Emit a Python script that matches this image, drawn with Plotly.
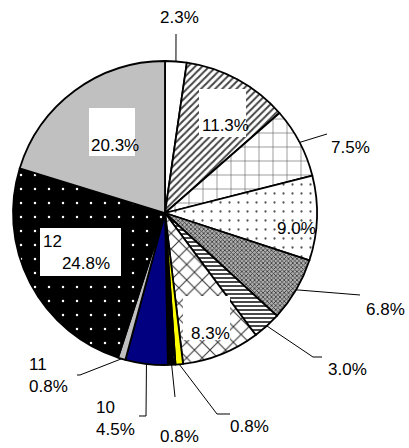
import math
import plotly.graph_objects as go

# ---- data ----
categories = ["1", "2", "3", "4", "5", "6", "7", "8", "9", "10", "11", "12", "13"]
values = [2.3, 11.3, 7.5, 9.0, 6.8, 3.0, 8.3, 0.8, 0.8, 4.5, 0.8, 24.8, 20.3]
label_texts = ["2.3%", "11.3%", "7.5%", "9.0%", "6.8%", "3.0%", "8.3%",
               "0.8%", "0.8%", "10<br>4.5%", "11<br>0.8%", "12<br>   24.8%", "20.3%"]

# ---- styles ----
bg_colors = ["#ffffff", "#ffffff", "#ffffff", "#ffffff", "#b0b0b0", "#ffffff", "#ffffff",
             "#ffff00", "#000000", "#000080", "#c0c0c0", "#000000", "#c0c0c0"]
fg_colors = ["#000000", "#444444", "#666666", "#555555", "#333333", "#333333", "#333333",
             "#ffff00", "#ffffff", "#000080", "#c0c0c0", "#ffffff", "#c0c0c0"]
shapes_p = ["", "/", "+", ".", "x", "-", "x", "", ".", "", "", ".", ""]
sizes_p = [8, 5, 14, 9, 3, 4, 11, 8, 14, 8, 8, 14, 8]
solid_p = [0.3, 0.4, 0.09, 0.05, 0.45, 0.45, 0.18, 0.3, 0.025, 0.3, 0.3, 0.025, 0.3]

W, H = 409, 448
CX, CY, R = 165, 213, 152   # pie centre / radius in pixels


def px(x):
    return x / W


def py(y):
    return 1 - y / H


fig = go.Figure(go.Pie(
    labels=categories, values=values, sort=False, direction="clockwise",
    rotation=0, textinfo="none", hoverinfo="label+percent",
    domain=dict(x=[px(CX - R), px(CX + R)], y=[py(CY + R), py(CY - R)]),
    marker=dict(colors=bg_colors,
                line=dict(color="#000000", width=1.8),
                pattern=dict(shape=shapes_p, fgcolor=fg_colors, bgcolor=bg_colors,
                             size=sizes_p, solidity=solid_p, fillmode="replace")),
    showlegend=False,
))

# label layout: text anchor point, anchor side, white box, leader elbow/end points
label_layout = [
    dict(x=179, y=18, anchor="center", box=None, leader=[(176, 34)]),
    dict(x=225, y=125, anchor="center", box=(199, 89, 246, 137), leader=None),
    dict(x=350, y=147, anchor="center", box=None, leader=[(327, 134)]),
    dict(x=296, y=228, anchor="center", box=None, leader=None),
    dict(x=385, y=309, anchor="center", box=None, leader=[(360, 295)]),
    dict(x=347, y=369, anchor="center", box=None, leader=[(313, 357), (322, 357)]),
    dict(x=210, y=333, anchor="center", box=(183, 296, 230, 340), leader=None),
    dict(x=249, y=426, anchor="center", box=None, leader=[(217, 414), (230, 414)]),
    dict(x=179, y=436, anchor="center", box=None, leader=[(175, 397)]),
    dict(x=94, y=418, anchor="left", box=None, leader=[(146, 416), (139, 416)]),
    dict(x=27, y=375, anchor="left", box=None, leader=[(80, 375), (77, 375)]),
    dict(x=41, y=252, anchor="left", box=(40, 228, 121, 276), leader=None),
    dict(x=115, y=145, anchor="center", box=(89, 108, 135, 156), leader=None),
]

total = sum(values)
cum = 0.0
annotations = []
shapes = []
font = dict(family="Liberation Sans, Arial, sans-serif", size=17, color="#000000")
for v, txt, lay in zip(values, label_texts, label_layout):
    mid = (cum + v / 2) / total * 2 * math.pi
    cum += v
    if lay["box"]:
        x0, y0, x1, y1 = lay["box"]
        shapes.append(dict(type="rect", xref="paper", yref="paper",
                           x0=px(x0), x1=px(x1), y0=py(y1), y1=py(y0),
                           fillcolor="#ffffff", line=dict(width=0)))
    annotations.append(dict(x=px(lay["x"]), y=py(lay["y"]), xref="paper", yref="paper",
                            xanchor=lay["anchor"], yanchor="middle",
                            text=txt.replace("   ", "&nbsp;&nbsp;&nbsp;&nbsp;"),
                            showarrow=False, font=font, align="left"))
    if lay["leader"]:
        sx = CX + R * math.sin(mid)
        sy = CY - R * math.cos(mid)
        pts = [(sx, sy)] + lay["leader"]
        path = "M " + " L ".join(f"{px(a):.5f},{py(b):.5f}" for a, b in pts)
        shapes.append(dict(type="path", path=path, xref="paper", yref="paper",
                           line=dict(color="#000000", width=1)))

fig.update_layout(width=W, height=H, margin=dict(l=0, r=0, t=0, b=0),
                  paper_bgcolor="#ffffff", plot_bgcolor="#ffffff",
                  annotations=annotations, shapes=shapes)
fig.write_html("out.html", config={"displayModeBar": False},
               post_script="document.body.style.margin='0';")
